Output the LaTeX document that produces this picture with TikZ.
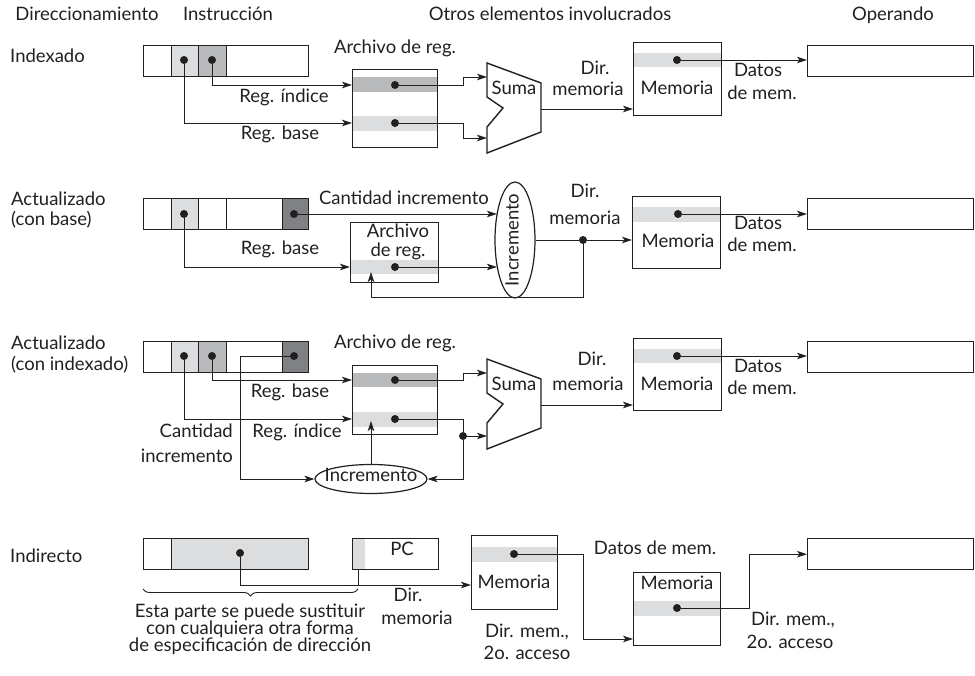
\documentclass[tikz,border=0pt]{standalone}
\usepackage{fontspec}
\setmainfont{Lato}
\usetikzlibrary{arrows.meta,decorations.pathreplacing,shapes.geometric,calc}
\definecolor{lg}{HTML}{DCDDDE}
\definecolor{mg}{HTML}{B9BABC}
\definecolor{dg}{HTML}{808184}
\definecolor{ink}{HTML}{231F20}
\begin{document}
\begin{tikzpicture}[x=1pt,y=-1pt,
  font=\fontsize{18.5}{21}\selectfont,
  box/.style={draw=ink, line width=1.4pt, inner sep=0, anchor=north west},
  dot/.style={circle, fill=ink, inner sep=0, minimum size=8pt},
  conn/.style={draw=ink, line width=0.9pt},
  arr/.style={conn, -{Stealth[length=10pt, width=6.5pt, inset=2.5pt]}},
  lbl/.style={inner sep=0, anchor=mid, text=ink},
  lbll/.style={inner sep=0, anchor=mid west, text=ink},
  lblr/.style={inner sep=0, anchor=mid east, text=ink},
  ell/.style={draw=ink, ellipse, line width=1.2pt, inner sep=0},
  shp/.style={draw=ink, line width=1.4pt, line join=miter}
]
\useasboundingbox (0,0) rectangle (975,676);

% headers
\node[lbl] (h1) at (87,18) {Direccionamiento};
\node[lbl] (h2) at (228,18) {Instrucción};
\node[lbl] (h3) at (550,18) {Otros elementos involucrados};
\node[lbl] (h4) at (893,18) {Operando};

% ================= Section 1: Indexado =================
\node[lbll] (t1) at (10,60) {Indexado};
\node[box, minimum width=28, minimum height=31] (i1a) at (143,45) {};
\node[box, fill=lg, minimum width=27, minimum height=31] (i1b) at (171,45) {};
\node[box, fill=mg, minimum width=28, minimum height=31] (i1c) at (198,45) {};
\node[box, minimum width=82, minimum height=31] (i1d) at (226,45) {};
\node[dot] (i1bd) at (184,60) {};
\node[dot] (i1cd) at (212,60) {};

\fill[mg] (352,77) rectangle (437,92);
\fill[lg] (352,116) rectangle (437,131);
\node[box, minimum width=85, minimum height=78] (rf1) at (352,69) {};
\node[dot] (rf1a) at (395,85) {};
\node[dot] (rf1b) at (395,123) {};
\node[lbl] (rf1t) at (395,51) {Archivo de reg.};

\draw[shp] (487,63) -- (541,83) -- (541,132) -- (487,153) -- (487,127) -- (503,108) -- (487,97) -- cycle;
\node[lbl] (s1t) at (514,92) {Suma};
\coordinate (s1in1) at (487,77);
\coordinate (s1in2) at (487,138);
\coordinate (s1out) at (541,109);

\fill[lg] (633,53) rectangle (721,67);
\node[box, minimum width=88, minimum height=73] (mem1) at (633,42) {};
\node[dot] (m1d) at (677,60) {};
\node[lbl] (m1t) at (677,92) {Memoria};
\node[box, minimum width=166, minimum height=31] (op1) at (807,45) {};

\draw[arr] (i1cd) |- (rf1.west |- rf1a);
\draw[arr] (i1bd) |- (rf1.west |- rf1b);
\draw[arr] (rf1a) -- ++(68,0) |- (s1in1);
\draw[arr] (rf1b) -- ++(68,0) |- (s1in2);
\draw[arr] (s1out) -- (s1out -| mem1.west);
\draw[arr] (m1d) -- (m1d -| op1.west);

\node[lbl] (l1a) at (284,100) {Reg. índice};
\node[lbl] (l1b) at (280,137) {Reg. base};
\node[lbl] (l1c) at (595,72) {Dir.};
\node[lbl] (l1d) at (588,93) {memoria};
\node[lbl] (l1e) at (758,74) {Datos};
\node[lbl] (l1f) at (762,97) {de mem.};

% ================= Section 2: Actualizado (con base) =================
\node[lbll] (t2a) at (11,203) {Actualizado};
\node[lbll] (t2b) at (11,223) {(con base)};
\node[box, minimum width=28, minimum height=31] (i2a) at (143,198) {};
\node[box, fill=lg, minimum width=27, minimum height=31] (i2b) at (171,198) {};
\node[box, minimum width=28, minimum height=31] (i2c) at (198,198) {};
\node[box, minimum width=56, minimum height=31] (i2d) at (226,198) {};
\node[box, fill=dg, minimum width=26, minimum height=31] (i2e) at (282,198) {};
\node[dot] (i2bd) at (184,214) {};
\node[dot] (i2ed) at (294,214) {};

\fill[lg] (350,260) rectangle (438,274);
\node[box, minimum width=88, minimum height=60] (rf2) at (350,222) {};
\node[dot] (rf2d) at (395,267) {};
\node[lbl] (rf2t1) at (398,235) {Archivo};
\node[lbl] (rf2t2) at (398,254) {de reg.};
\coordinate (rf2up) at (371,272);

\node[ell, minimum width=40, minimum height=116] (inc2) at (515,240) {};
\node[lbl, rotate=90] (inc2t) at (516,240) {Incremento};
\node[dot] (j2) at (583,240) {};

\fill[lg] (632,207) rectangle (720,222);
\node[box, minimum width=88, minimum height=72] (mem2) at (632,196) {};
\node[dot] (m2d) at (678,214) {};
\node[lbl] (m2t) at (678,245) {Memoria};
\node[box, minimum width=166, minimum height=31] (op2) at (807,198) {};

\draw[arr] (i2bd) |- (rf2.west |- rf2d);
\draw[arr] (i2ed) -- (i2ed -| inc2.123);
\draw[arr] (rf2d) -- (rf2d -| inc2.237);
\draw[conn] (inc2.east) -- (j2);
\draw[arr] (j2) -- (j2 -| mem2.west);
\draw[arr] (j2) -- ++(0,57) -| (rf2up);
\draw[arr] (m2d) -- (m2d -| op2.west);

\node[lbl] (l2a) at (404,202) {Cantidad incremento};
\node[lbl] (l2b) at (280,252) {Reg. base};
\node[lbl] (l2c) at (585,195) {Dir.};
\node[lbl] (l2d) at (585,222) {memoria};
\node[lbl] (l2e) at (758,227) {Datos};
\node[lbl] (l2f) at (762,249) {de mem.};

% ================= Section 3: Actualizado (con indexado) =================
\node[lbll] (t3a) at (11,347) {Actualizado};
\node[lbll] (t3b) at (11,368) {(con indexado)};
\node[box, minimum width=28, minimum height=31] (i3a) at (143,341) {};
\node[box, fill=lg, minimum width=27, minimum height=31] (i3b) at (171,341) {};
\node[box, fill=mg, minimum width=28, minimum height=31] (i3c) at (198,341) {};
\node[box, minimum width=56, minimum height=31] (i3d) at (226,341) {};
\node[box, fill=dg, minimum width=26, minimum height=31] (i3e) at (282,341) {};
\node[dot] (i3bd) at (184,356) {};
\node[dot] (i3cd) at (212,356) {};
\node[dot] (i3ed) at (294,356) {};

\fill[mg] (352,373) rectangle (437,387);
\fill[lg] (352,412) rectangle (437,427);
\node[box, minimum width=85, minimum height=69] (rf3) at (352,365) {};
\node[dot] (rf3a) at (395,380) {};
\node[dot] (rf3b) at (395,419) {};
\node[lbl] (rf3t) at (395,346) {Archivo de reg.};
\coordinate (rf3up) at (371,421);

\draw[shp] (487,359) -- (541,379) -- (541,428) -- (487,449) -- (487,423) -- (503,404) -- (487,393) -- cycle;
\node[lbl] (s3t) at (514,388) {Suma};
\coordinate (s3in1) at (487,373);
\coordinate (s3in2) at (487,436);
\coordinate (s3out) at (541,405);
\node[dot] (j3) at (463,436) {};

\node[ell, minimum width=112, minimum height=29] (inc3) at (371,479) {};
\node[lbl] (inc3t) at (371,479) {Incremento};

\fill[lg] (633,349) rectangle (721,363);
\node[box, minimum width=88, minimum height=72] (mem3) at (633,338) {};
\node[dot] (m3d) at (677,356) {};
\node[lbl] (m3t) at (677,388) {Memoria};
\node[box, minimum width=166, minimum height=31] (op3) at (807,341) {};

\draw[arr] (i3cd) |- (rf3.west |- rf3a);
\draw[arr] (i3bd) |- (rf3.west |- rf3b);
\draw[arr] (i3ed) -- ++(-54,0) |- (inc3.west);
\draw[arr] (rf3a) -- ++(68,0) |- (s3in1);
\draw[conn] (rf3b) -- ++(68,0) -- (j3);
\draw[arr] (j3) -- (s3in2);
\draw[arr] (j3) |- (inc3.east);
\draw[arr] (inc3.north) -- (rf3up);
\draw[arr] (s3out) -- (s3out -| mem3.west);
\draw[arr] (m3d) -- (m3d -| op3.west);

\node[lbl] (l3a) at (290,395) {Reg. base};
\node[lbl] (l3b) at (297,435) {Reg. índice};
\node[lblr] (l3c) at (233,435) {Cantidad};
\node[lblr] (l3d) at (233,460) {incremento};
\node[lbl] (l3e) at (592,363) {Dir.};
\node[lbl] (l3f) at (588,388) {memoria};
\node[lbl] (l3g) at (758,370) {Datos};
\node[lbl] (l3h) at (762,392) {de mem.};

% ================= Section 4: Indirecto =================
\node[lbll] (t4) at (10,560) {Indirecto};
\node[box, minimum width=28, minimum height=31] (i4a) at (143,538) {};
\node[box, fill=lg, minimum width=137, minimum height=31] (i4b) at (171,538) {};
\node[dot] (i4d) at (240,553) {};

\fill[lg] (352,538) rectangle (365,569);
\node[box, minimum width=86, minimum height=31] (pc) at (352,538) {};
\node[lbl] (pct) at (402,553) {PC};
\coordinate (pcs) at (358,569);

\fill[lg] (471,547) rectangle (557,562);
\node[box, minimum width=86, minimum height=74] (m4a) at (471,535) {};
\node[dot] (m4ad) at (514,554) {};
\node[lbl] (m4at) at (514,586) {Memoria};
\coordinate (m4ain) at (471,585);

\fill[lg] (633,601) rectangle (720,616);
\node[box, minimum width=87, minimum height=73] (m4b) at (633,572) {};
\node[dot] (m4bd) at (677,608) {};
\node[lbl] (m4bt) at (677,587) {Memoria};
\coordinate (m4bin) at (633,639);

\node[box, minimum width=166, minimum height=31] (op4) at (807,538) {};

\draw[arr] (i4d) |- (m4ain);
\draw[conn] (pcs) -- (pcs |- m4ain);
\draw[arr] (m4ad) -- ++(69,0) |- (m4bin);
\draw[arr] (m4bd) -- ++(72,0) |- (op4.west);

\draw[conn, decorate, decoration={brace, amplitude=7pt, mirror}] (143,589) -- (358,589);
\node[lbl] (b1) at (250,615) {Esta parte se puede sustituir};
\node[lbl] (b2) at (250,632) {con cualquiera otra forma};
\node[lbl] (b3) at (250,649) {de especificación de dirección};

\node[lbl] (l4a) at (408,599) {Dir.};
\node[lbl] (l4b) at (417,622) {memoria};
\node[lbl] (l4c) at (527,635) {Dir. mem.,};
\node[lbl] (l4d) at (527,657) {2o. acceso};
\node[lbl] (l4e) at (655,552) {Datos de mem.};
\node[lbl] (l4f) at (793,623) {Dir. mem.,};
\node[lbl] (l4g) at (790,646) {2o. acceso};
\end{tikzpicture}
\end{document}
